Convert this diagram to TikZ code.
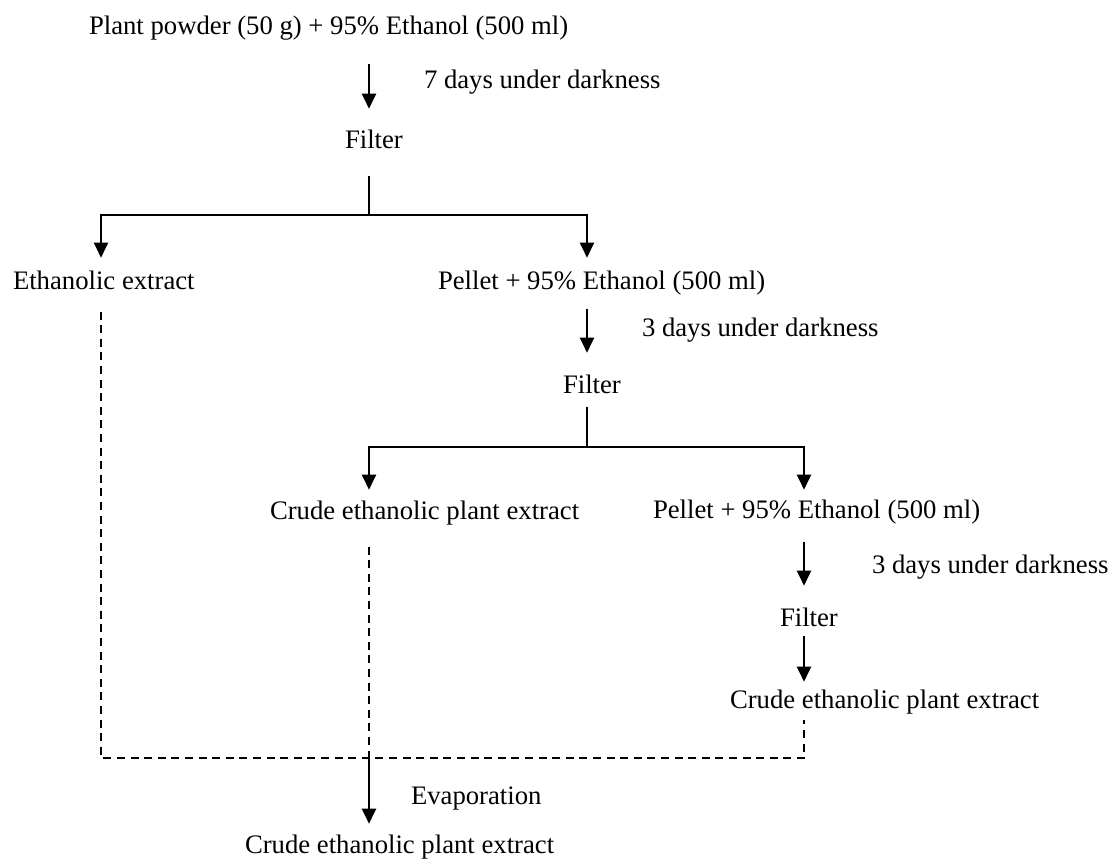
\documentclass[tikz,border=0pt]{standalone}
\usepackage{fontspec}
\setmainfont{Liberation Serif}
\usetikzlibrary{arrows.meta}
\begin{document}
\begin{tikzpicture}[x=0.5pt,y=-0.5pt,
  lbl/.style={anchor=base west,inner sep=0pt,outer sep=0pt,text height=0.7em,text depth=0.22em,
    font=\fontsize{13.35}{16}\selectfont},
  solidln/.style={line width=1pt},
  arr/.style={line width=1pt,-{Triangle[length=7.5pt,width=7pt]}},
  dsh/.style={line width=0.8pt,dash pattern=on 4pt off 2.8pt}]
\useasboundingbox (0,0) rectangle (1109,858);
% columns and junctions
\coordinate (cA) at (101,0);
\coordinate (cB) at (369,0);
\coordinate (cC) at (587,0);
\coordinate (cD) at (804,0);
\coordinate (j1) at (369,215);
\coordinate (j2) at (587,447);
\coordinate (jd) at (369,758);
% nodes
\node[lbl] (title) at (89,34) {Plant powder (50 g) + 95\% Ethanol (500 ml)};
\node[lbl] (d7) at (424,88) {7 days under darkness};
\node[lbl] (f1) at (345,148) {Filter};
\node[lbl] (eth) at (13,289) {Ethanolic extract};
\node[lbl] (p1) at (438,289) {Pellet + 95\% Ethanol (500 ml)};
\node[lbl] (d3a) at (642,336) {3 days under darkness};
\node[lbl] (f2) at (563,393) {Filter};
\node[lbl] (c2) at (270,519) {Crude ethanolic plant extract};
\node[lbl] (p2) at (653,518) {Pellet + 95\% Ethanol (500 ml)};
\node[lbl] (d3b) at (872,573) {3 days under darkness};
\node[lbl] (f3) at (780,626) {Filter};
\node[lbl] (c3) at (730,708) {Crude ethanolic plant extract};
\node[lbl] (evap) at (411,804) {Evaporation};
\node[lbl] (fin) at (245,853) {Crude ethanolic plant extract};
% connectors
\draw[arr,shorten <=12.55pt,shorten >=12.65pt] (title.south -| cB) -- (f1.north -| cB);
\draw[solidln,shorten <=11.55pt] (f1.south -| cB) -- (j1);
\draw[arr,shorten >=8.65pt] (j1) -| (eth.north -| cA);
\draw[arr,shorten >=8.65pt] (j1) -| (p1.north -| cC);
\draw[arr,shorten <=7.55pt,shorten >=13.15pt] (p1.south -| cC) -- (f2.north -| cC);
\draw[solidln,shorten <=4.55pt] (f2.south -| cC) -- (j2);
\draw[arr,shorten >=7.65pt] (j2) -| (c2.north -| cB);
\draw[arr,shorten >=7.15pt] (j2) -| (p2.north -| cD);
\draw[arr,shorten <=9.55pt,shorten >=13.15pt] (p2.south -| cD) -- (f3.north -| cD);
\draw[arr,shorten <=2.55pt,shorten >=6.15pt] (f3.south -| cD) -- (c3.north -| cD);
\draw[dsh,shorten <=9.05pt,shorten >=3.55pt] (eth.south -| cA) |- (jd) -| (c3.south -| cD);
\draw[dsh,shorten <=11.55pt] (c2.south -| cB) -- (jd);
\draw[arr,shorten >=7.65pt] (jd) -- (fin.north -| cB);
\end{tikzpicture}
\end{document}
